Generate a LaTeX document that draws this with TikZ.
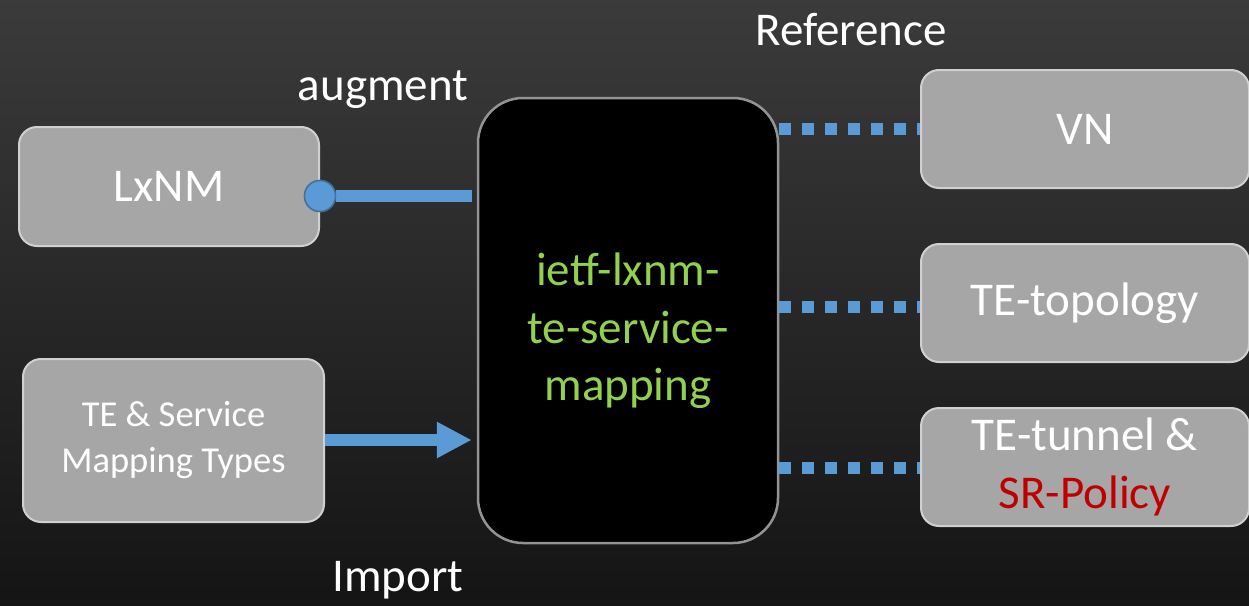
\documentclass[tikz,border=0pt]{standalone}
\usepackage{fontspec}
\setmainfont{Carlito}
\usepackage{tikz}
\usetikzlibrary{arrows.meta,positioning,shapes.geometric}
\definecolor{MapBlue}{HTML}{5B9BD5}
\definecolor{MapBlueDark}{HTML}{41719C}
\definecolor{MapGray}{HTML}{A6A6A6}
\definecolor{MapEdge}{HTML}{D0D0D0}
\definecolor{MapGreen}{HTML}{92D050}
\definecolor{MapRed}{HTML}{C00000}

\begin{document}
\begin{tikzpicture}[
    x=1pt,y=-1pt,
    big/.style={font=\fontsize{47}{57.5}\selectfont},
    small/.style={font=\fontsize{36.5}{46}\selectfont},
    box/.style={draw=MapEdge,line width=2pt,rounded corners=18pt,fill=MapGray,
      text=white,align=center,inner sep=0pt},
    hub/.style={draw=gray!85,line width=2.5pt,rounded corners=45pt,fill=black,
      text=MapGreen,align=center,minimum width=300pt,minimum height=445pt},
    label/.style={big,text=white,inner sep=0pt},
    augline/.style={draw=MapBlue,line width=12pt,shorten >=5pt},
    arrow/.style={draw=MapBlue,line width=12pt,shorten >=5pt,
      -{Triangle[length=35pt,width=34pt]}},
    refline/.style={draw=MapBlue,line width=12pt,dash pattern=on 12pt off 11pt}
  ]
    % background
    \fill[top color=black!77,bottom color=black!92] (0,0) rectangle (1249,605);
    \useasboundingbox (0,0) rectangle (1249,605);

    \node[hub,big] (map) at (628,320.5) {\\[-4pt]ietf-lxnm-\\te-service-\\mapping};
    \node[box,big,minimum width=300pt,minimum height=119pt] (lxnm) at (169,186.5) {LxNM};
    \node[box,small,minimum width=301pt,minimum height=163pt] (types) at (173.5,440.5)
      {TE \& Service\\Mapping Types};
    \node[box,big,minimum width=328pt,minimum height=118pt] (vn) at (1085,129) {VN};
    \node[box,big,minimum width=328pt,minimum height=118pt] (topo) at (1085,303) {TE-topology};
    \node[box,big,minimum width=328pt,minimum height=118pt] (tunnel) at (1085,467)
      {TE-tunnel \&\\\textcolor{MapRed}{SR-Policy}};

    \node[label] (augment) at (383,90) {augment};
    \node[label] (reference) at (851,30) {Reference};
    \node[label] (import) at (398,580) {Import};

    \draw[refline] (map.east |- vn.west) -- (vn.west);
    \draw[refline] (map.east |- 0,307) -- (topo.west |- 0,307);
    \draw[refline] (map.east |- 0,468) -- (tunnel.west |- 0,468);
    \draw[arrow] (types.east |- 0,440) -- (map.west |- 0,440);
    \node[circle,draw=MapBlueDark,line width=1.5pt,fill=MapBlue,minimum size=31pt,
      inner sep=0pt] (dot) at (lxnm.east |- 0,196) {};
    \draw[augline] (dot.east) -- (map.west |- dot);
    \node[circle,draw=MapBlueDark,line width=1.5pt,fill=MapBlue,minimum size=31pt,
      inner sep=0pt] at (dot) {};
\end{tikzpicture}
\end{document}
